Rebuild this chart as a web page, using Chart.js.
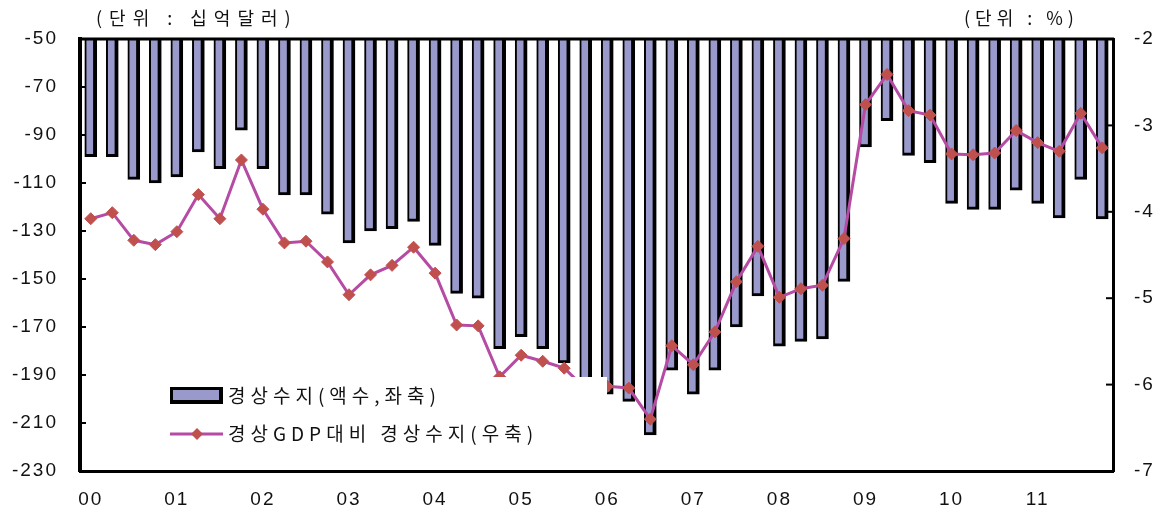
<!DOCTYPE html>
<html>
<head>
<meta charset="utf-8">
<script src="https://cdn.jsdelivr.net/npm/chart.js@4"></script>
<style>
  html, body { margin: 0; padding: 0; background: #fff; }
  #wrap { width: 1159px; height: 516px; position: relative; }
</style>
</head>
<body>
<div id="wrap"><canvas id="chart"></canvas></div>
<script>
// years on the x axis, one label at the first quarter of each year
const years = ['00', '01', '02', '03', '04', '05', '06', '07', '08', '09', '10', '11'];

// current account balance, billion dollars (left axis)
const balance = [
  -99, -99, -108.5, -110, -107.5, -97, -104, -88, -104, -115,
  -115, -123, -135, -130, -129, -126, -136, -156, -158, -179,
  -174, -179, -185, -192, -198, -201, -215, -188, -198, -188,
  -170, -157, -178, -176, -175, -151, -95, -84, -98.5, -101.5,
  -118.5, -121, -121, -113, -118.5, -124.5, -108.5, -125
];

// current account balance to GDP, % (right axis)
const ratio = [
  -4.08, -4.01, -4.33, -4.38, -4.23, -3.80, -4.08, -3.40, -3.97, -4.36,
  -4.34, -4.58, -4.96, -4.73, -4.62, -4.41, -4.71, -5.31, -5.32, -5.91,
  -5.66, -5.73, -5.81, -6.05, -6.02, -6.04, -6.40, -5.55, -5.77, -5.39,
  -4.81, -4.40, -4.99, -4.89, -4.85, -4.31, -2.76, -2.41, -2.83, -2.88,
  -3.33, -3.34, -3.32, -3.06, -3.20, -3.30, -2.86, -3.26
];

const barLabel = '경상수지(액수,좌축)';
const lineLabel = '경상GDP대비 경상수지(우축)';
const leftUnit = '(단위 : 십억달러)';
const rightUnit = '(단위 : %)';

const barColor = '#9999CC';
const lineColor = '#B64BA4';
const markColor = '#C0504D';
const krFont = '"Noto Sans CJK KR", "Noto Sans", sans-serif';
const numFont = '"Liberation Sans", Arial, sans-serif';

// one category per quarter, year shown on Q1
const quarters = [];
years.forEach(y => { quarters.push(y, '', '', ''); });

// frame, inner tick marks, unit captions and the white legend box
const overlay = {
  id: 'overlay',
  beforeDraw(chart) {
    chart.ctx.letterSpacing = '2px';
  },
  afterDatasetsDraw(chart) {
    const { ctx, chartArea: a } = chart;
    const lx = a.left + 90, ly = a.bottom - 84;
    ctx.save();
    ctx.letterSpacing = '0px';
    ctx.fillStyle = '#fff';
    ctx.fillRect(a.left + 82, a.top + 338, 445, 82);

    // bar swatch
    ctx.fillStyle = '#000';
    ctx.fillRect(lx, ly, 53, 17);
    ctx.fillStyle = barColor;
    ctx.fillRect(lx + 3, ly + 3, 46, 10);

    // line swatch
    const y2 = ly + 47;
    ctx.strokeStyle = lineColor;
    ctx.lineWidth = 3;
    ctx.beginPath();
    ctx.moveTo(lx, y2);
    ctx.lineTo(lx + 53, y2);
    ctx.stroke();
    ctx.fillStyle = markColor;
    ctx.beginPath();
    ctx.moveTo(lx + 27, y2 - 6);
    ctx.lineTo(lx + 33, y2);
    ctx.lineTo(lx + 27, y2 + 6);
    ctx.lineTo(lx + 21, y2);
    ctx.closePath();
    ctx.fill();

    ctx.fillStyle = '#111';
    ctx.font = '19px ' + krFont;
    ctx.textBaseline = 'middle';
    ctx.letterSpacing = '5px';
    ctx.fillText(barLabel, lx + 58, ly + 9);
    ctx.fillText(lineLabel, lx + 58, y2);
    ctx.restore();
  },
  afterDraw(chart) {
    const { ctx, chartArea: a, scales } = chart;
    ctx.save();
    ctx.strokeStyle = '#000';
    ctx.lineWidth = 3;
    ctx.beginPath();
    ctx.moveTo(a.left - 2, a.top);
    ctx.lineTo(a.right + 1, a.top);
    ctx.stroke();

    ctx.lineWidth = 2;
    scales.y.ticks.forEach(t => {
      const p = scales.y.getPixelForValue(t.value);
      ctx.beginPath();
      ctx.moveTo(a.left, p);
      ctx.lineTo(a.left + 6, p);
      ctx.stroke();
    });
    scales.y1.ticks.forEach(t => {
      const p = scales.y1.getPixelForValue(t.value);
      ctx.beginPath();
      ctx.moveTo(a.right - 7, p);
      ctx.lineTo(a.right, p);
      ctx.stroke();
    });

    ctx.fillStyle = '#111';
    ctx.font = '18px ' + krFont;
    ctx.textBaseline = 'middle';
    ctx.letterSpacing = '7px';
    ctx.fillText(leftUnit, 96, 18);
    ctx.letterSpacing = '5px';
    ctx.fillText(rightUnit, 964, 18);
    ctx.restore();
  }
};

new Chart(document.getElementById('chart'), {
  data: {
    labels: quarters,
    datasets: [
      {
        type: 'line',
        label: lineLabel,
        data: ratio,
        yAxisID: 'y1',
        borderColor: lineColor,
        borderWidth: 3,
        tension: 0,
        pointStyle: 'rectRot',
        pointRadius: 6,
        pointBackgroundColor: markColor,
        pointBorderColor: markColor,
        pointBorderWidth: 1,
        order: 0
      },
      {
        type: 'bar',
        label: barLabel,
        data: balance,
        yAxisID: 'y',
        backgroundColor: barColor,
        borderColor: '#000',
        borderWidth: { top: 0, left: 2, right: 4, bottom: 3 },
        borderSkipped: 'start',
        barThickness: 12,
        order: 1
      }
    ]
  },
  options: {
    responsive: true,
    maintainAspectRatio: false,
    animation: false,
    layout: { padding: { top: 39, left: 0, right: 0, bottom: 0 } },
    plugins: {
      legend: { display: false },
      tooltip: { enabled: false }
    },
    scales: {
      x: {
        grid: { display: false, drawTicks: false },
        border: { display: true, color: '#000', width: 3 },
        ticks: {
          autoSkip: false,
          maxRotation: 0,
          padding: 17,
          color: '#111',
          font: { family: numFont, size: 19 }
        },
        afterFit: s => { s.height = 45; }
      },
      y: {
        position: 'left',
        min: -230,
        max: -50,
        grid: { display: false, drawTicks: false },
        border: { display: true, color: '#000', width: 4 },
        ticks: {
          stepSize: 20,
          padding: 22,
          color: '#111',
          font: { family: numFont, size: 19 }
        },
        afterFit: s => { s.width = 80; }
      },
      y1: {
        position: 'right',
        min: -7,
        max: -2,
        grid: { display: false, drawTicks: false },
        border: { display: true, color: '#000', width: 3 },
        ticks: {
          stepSize: 1,
          padding: 21,
          color: '#111',
          font: { family: numFont, size: 19 }
        },
        afterFit: s => { s.width = 46; }
      }
    }
  },
  plugins: [overlay]
});
</script>
</body>
</html>
